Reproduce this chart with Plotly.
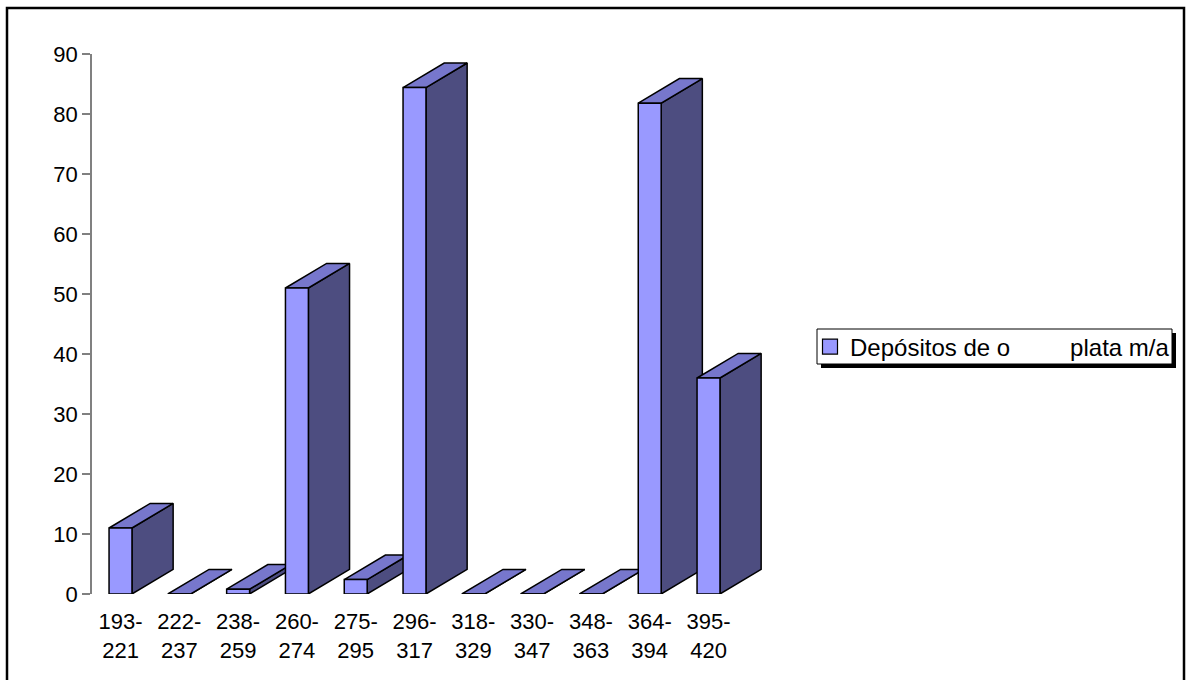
import plotly.graph_objects as go

# ---- data ----
categories = ["193-<br>221", "222-<br>237", "238-<br>259", "260-<br>274", "275-<br>295",
              "296-<br>317", "318-<br>329", "330-<br>347", "348-<br>363", "364-<br>394",
              "395-<br>420"]
values = [11, 0, 0.8, 51, 2.4, 84.4, 0, 0, 0, 81.8, 36]
series_name = "Depósitos de o" + "\u00a0" * 9 + "plata m/a"
y_ticks = [0, 10, 20, 30, 40, 50, 60, 70, 80, 90]

# ---- style ----
FRONT = "#9999FF"
TOP = "#7777CC"
SIDE = "#4D4D80"
W = 0.39      # bar front width (category units)
DX = 0.70     # depth offset x (category units)
DY = 4.1      # depth offset y (value units)
FONT = "Liberation Sans, Arial, sans-serif"

fig = go.Figure()

# legend entry
fig.add_trace(go.Scatter(x=[None], y=[None], name=series_name, mode="markers",
                         marker=dict(symbol="square", size=15, color=FRONT,
                                     line=dict(color="black", width=1.2)),
                         showlegend=True, hoverinfo="skip"))

xpos = list(range(1, len(categories) + 1))
for xc, v in zip(xpos, values):
    xl, xr = xc - W / 2, xc + W / 2
    side = ([xr, xr + DX, xr + DX, xr, xr], [0, DY, v + DY, v, 0])
    top = ([xl, xl + DX, xr + DX, xr, xl], [v, v + DY, v + DY, v, v])
    front = ([xl, xr, xr, xl, xl], [0, 0, v, v, 0])
    for (xs, ys), col in ((side, SIDE), (top, TOP), (front, FRONT)):
        fig.add_trace(go.Scatter(x=xs, y=ys, fill="toself", fillcolor=col, mode="lines",
                                 line=dict(color="black", width=1.5),
                                 showlegend=False, hoverinfo="skip"))

ML, MR, MT, MB = 92, 421, 54, 86
W_PX, H_PX = 1188, 680
PW, PH = W_PX - ML - MR, H_PX - MT - MB


def px_x(p):
    return (p - ML) / PW


def px_y(p):
    return (H_PX - MB - p) / PH


fig.update_layout(
    width=W_PX, height=H_PX, autosize=False,
    margin=dict(l=ML, r=MR, t=MT, b=MB, pad=0),
    paper_bgcolor="white", plot_bgcolor="white",
    font=dict(family=FONT, size=22, color="black"),
    showlegend=True,
    legend=dict(x=px_x(810), y=px_y(347), xanchor="left", yanchor="middle",
                bgcolor="rgba(0,0,0,0)", borderwidth=0,
                font=dict(family=FONT, size=24, color="black"),
                itemwidth=30),
    xaxis=dict(range=[0.515, 0.515 + PW / 58.8], tickmode="array", tickvals=xpos,
               ticktext=categories, showgrid=False, zeroline=False, showline=False,
               ticks="", ticklabelstandoff=12,
               tickfont=dict(family=FONT, size=22, color="black")),
    yaxis=dict(range=[0, 90], tickmode="array", tickvals=y_ticks,
               ticktext=[str(t) for t in y_ticks], showgrid=False, zeroline=False,
               showline=True, linecolor="#808080", linewidth=1.5,
               ticks="outside", ticklen=8, tickcolor="#808080", tickwidth=1.5,
               tickfont=dict(family=FONT, size=22, color="black")),
    shapes=[
        # outer chart frame
        dict(type="rect", xref="paper", yref="paper",
             x0=px_x(7), x1=px_x(1184), y0=px_y(8), y1=px_y(700),
             line=dict(color="black", width=2.5), fillcolor="rgba(0,0,0,0)", layer="above"),
        # legend shadow
        dict(type="rect", xref="paper", yref="paper",
             x0=px_x(821), x1=px_x(1176), y0=px_y(333), y1=px_y(368),
             line=dict(width=0), fillcolor="black", layer="above"),
        # legend box
        dict(type="rect", xref="paper", yref="paper",
             x0=px_x(817), x1=px_x(1172), y0=px_y(329), y1=px_y(364),
             line=dict(color="black", width=1), fillcolor="white", layer="above"),
    ],
)

fig.write_html("out.html")
